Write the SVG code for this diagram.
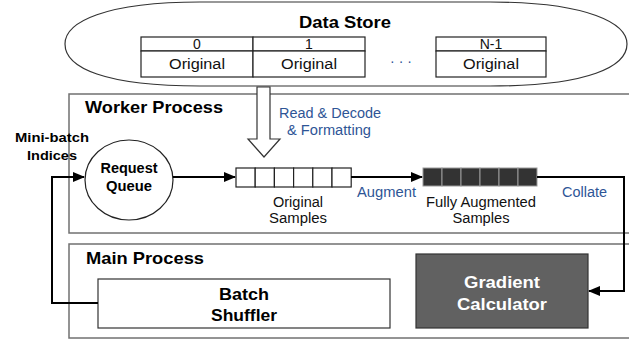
<svg xmlns="http://www.w3.org/2000/svg" width="629" height="341" viewBox="0 0 629 341">
<style>
text{font-family:"Liberation Sans",Arial,Helvetica,sans-serif;}
.b{font-weight:bold;}
.t{font-size:17px;font-weight:bold;fill:#000;}
.n{font-size:14px;fill:#111;}
.bl{font-size:14px;fill:#2e5596;}
.box{fill:#fff;stroke:#707070;stroke-width:1.5;}
.cell{fill:#fff;stroke:#222;stroke-width:1.2;}
.dcell{fill:#333;stroke:#9a9a9a;stroke-width:1;}
.conn{fill:none;stroke:#000;stroke-width:2;}
</style>
<defs>
<marker id="ah" markerUnits="userSpaceOnUse" markerWidth="12" markerHeight="10" refX="11" refY="5" orient="auto">
<path d="M0,0 L12,5 L0,10 Z" fill="#000"/>
</marker>
</defs>
<rect width="629" height="341" fill="#fff"/>

<g id="data-store">
<path d="M200,2 L490,2 C590,2 627,24 627,44 C627,66 590,86 490,86 L200,86 C105,86 65,68 65,44 C65,22 105,2 200,2 Z" fill="#fff" stroke="#333" stroke-width="1.2"/>
<text x="345" y="28" class="t" font-size="16" text-anchor="middle" textLength="92" lengthAdjust="spacingAndGlyphs">Data Store</text>
<rect x="141" y="37" width="112" height="14" class="cell"/>
<rect x="253" y="37" width="112" height="14" class="cell"/>
<rect x="141" y="51" width="112" height="26" class="cell"/>
<rect x="253" y="51" width="112" height="26" class="cell"/>
<rect x="436" y="37" width="110" height="14" class="cell"/>
<rect x="436" y="51" width="110" height="26" class="cell"/>
<text x="197" y="49" class="n" font-size="13" text-anchor="middle">0</text>
<text x="309" y="49" class="n" font-size="13" text-anchor="middle">1</text>
<text x="491" y="49" class="n" font-size="13" text-anchor="middle">N-1</text>
<text x="197" y="69" class="n" text-anchor="middle" textLength="56" lengthAdjust="spacingAndGlyphs">Original</text>
<text x="309" y="69" class="n" text-anchor="middle" textLength="56" lengthAdjust="spacingAndGlyphs">Original</text>
<text x="491" y="69" class="n" text-anchor="middle" textLength="56" lengthAdjust="spacingAndGlyphs">Original</text>
<text x="401" y="66" class="bl" font-size="13" text-anchor="middle">· · ·</text>
</g>

<g id="worker-process">
<rect x="69" y="94" width="570" height="139" class="box"/>
<text x="85" y="113" class="t" textLength="138" lengthAdjust="spacingAndGlyphs">Worker Process</text>
</g>

<g id="main-process">
<rect x="69" y="244" width="570" height="94" class="box"/>
<text x="86" y="264" class="t" font-size="16" textLength="118" lengthAdjust="spacingAndGlyphs">Main Process</text>
</g>

<g id="read-decode">
<polygon points="257,87 270,87 270,139 280,139 264,157 248,139 257,139" fill="#fff" stroke="#333" stroke-width="1.2"/>
<text x="330" y="118" class="bl" text-anchor="middle" textLength="102" lengthAdjust="spacingAndGlyphs">Read &amp; Decode</text>
<text x="329" y="135" class="bl" text-anchor="middle" textLength="84" lengthAdjust="spacingAndGlyphs">&amp; Formatting</text>
</g>

<g id="mini-batch-label">
<text x="52" y="142" class="b" font-size="13" text-anchor="middle" textLength="74" lengthAdjust="spacingAndGlyphs">Mini-batch</text>
<text x="52" y="160" class="b" font-size="13" text-anchor="middle" textLength="50" lengthAdjust="spacingAndGlyphs">Indices</text>
</g>

<g id="request-queue">
<ellipse cx="129" cy="180" rx="44" ry="40" fill="#fff" stroke="#222" stroke-width="1.2"/>
<text x="129" y="173" class="b" font-size="14" text-anchor="middle" textLength="57" lengthAdjust="spacingAndGlyphs">Request</text>
<text x="129" y="191" class="b" font-size="14" text-anchor="middle" textLength="46" lengthAdjust="spacingAndGlyphs">Queue</text>
</g>

<g id="original-samples">
<rect x="236" y="168" width="19.2" height="19" class="cell"/>
<rect x="255.2" y="168" width="19.2" height="19" class="cell"/>
<rect x="274.4" y="168" width="19.2" height="19" class="cell"/>
<rect x="293.6" y="168" width="19.2" height="19" class="cell"/>
<rect x="312.8" y="168" width="19.2" height="19" class="cell"/>
<rect x="332" y="168" width="19.2" height="19" class="cell"/>
<text x="298" y="207" class="n" text-anchor="middle" textLength="50" lengthAdjust="spacingAndGlyphs">Original</text>
<text x="298" y="223" class="n" text-anchor="middle" textLength="58" lengthAdjust="spacingAndGlyphs">Samples</text>
</g>

<g id="augmented-samples">
<rect x="423" y="168" width="19" height="18" class="dcell"/>
<rect x="442" y="168" width="19" height="18" class="dcell"/>
<rect x="461" y="168" width="19" height="18" class="dcell"/>
<rect x="480" y="168" width="19" height="18" class="dcell"/>
<rect x="499" y="168" width="19" height="18" class="dcell"/>
<rect x="518" y="168" width="19" height="18" class="dcell"/>
<text x="481" y="207" class="n" text-anchor="middle" textLength="110" lengthAdjust="spacingAndGlyphs">Fully Augmented</text>
<text x="481" y="223" class="n" text-anchor="middle" textLength="57" lengthAdjust="spacingAndGlyphs">Samples</text>
</g>

<g id="batch-shuffler">
<rect x="98" y="279" width="292" height="49" fill="#fff" stroke="#333" stroke-width="1.2"/>
<text x="244" y="300" class="b" font-size="16" text-anchor="middle" textLength="50" lengthAdjust="spacingAndGlyphs">Batch</text>
<text x="244" y="321" class="b" font-size="16" text-anchor="middle" textLength="66" lengthAdjust="spacingAndGlyphs">Shuffler</text>
</g>

<g id="gradient-calculator">
<rect x="416" y="254" width="172" height="74" fill="#616161" stroke="#333" stroke-width="1.2"/>
<text x="502" y="288" class="b" font-size="16" fill="#fff" text-anchor="middle" textLength="76" lengthAdjust="spacingAndGlyphs">Gradient</text>
<text x="502" y="310" class="b" font-size="16" fill="#fff" text-anchor="middle" textLength="90" lengthAdjust="spacingAndGlyphs">Calculator</text>
</g>

<g id="connectors">
<path d="M173,177 L235,177" class="conn" marker-end="url(#ah)"/>
<path d="M351,177 L422,177" class="conn" marker-end="url(#ah)"/>
<path d="M537,177 L624,177 L624,291 L589,291" class="conn" marker-end="url(#ah)"/>
<path d="M98,303 L52,303 L52,177 L84,177" class="conn" marker-end="url(#ah)"/>
<text x="386.5" y="197" class="bl" text-anchor="middle" textLength="59" lengthAdjust="spacingAndGlyphs">Augment</text>
<text x="584.5" y="197" class="bl" text-anchor="middle" textLength="45" lengthAdjust="spacingAndGlyphs">Collate</text>
</g>
</svg>
